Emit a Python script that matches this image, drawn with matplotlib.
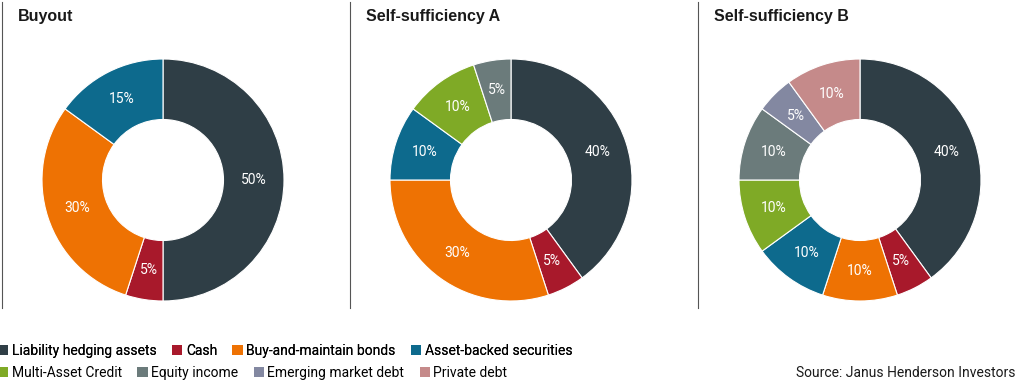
import numpy as np
import matplotlib.pyplot as plt
from matplotlib.patches import Patch
from matplotlib.lines import Line2D

plt.rcParams['font.family'] = ['Liberation Sans', 'DejaVu Sans']
narrow = ['Roboto', 'DejaVu Sans']

categories = ["Liability hedging assets", "Cash", "Buy-and-maintain bonds",
              "Asset-backed securities", "Multi-Asset Credit", "Equity income",
              "Emerging market debt", "Private debt"]
colors = ["#2f3e46", "#a8192b", "#ee7203", "#0d6a8d",
          "#7faa26", "#6b7b7b", "#8388a1", "#c58a8a"]

titles = ["Buyout", "Self-sufficiency A", "Self-sufficiency B"]
buyout = [50, 5, 30, 15, 0, 0, 0, 0]
suff_a = [40, 5, 30, 10, 10, 5, 0, 0]
suff_b = [40, 5, 10, 10, 10, 10, 5, 10]
portfolios = [buyout, suff_a, suff_b]

W, H = 1024, 384
fig = plt.figure(figsize=(W / 100, H / 100), dpi=100)

centers_x = [163, 511, 860]
cy = 180
R = 121

for i, (title, vals) in enumerate(zip(titles, portfolios)):
    cx = centers_x[i]
    ax = fig.add_axes([(cx - R) / W, (H - cy - R) / H, 2 * R / W, 2 * R / H])
    v = [x for x in vals if x > 0]
    c = [colors[k] for k, x in enumerate(vals) if x > 0]
    wedges, texts = ax.pie(v, colors=c, startangle=90, counterclock=False,
                           radius=1, wedgeprops=dict(width=0.5, edgecolor="white", linewidth=0.8))
    for w, val in zip(wedges, v):
        ang = np.deg2rad((w.theta1 + w.theta2) / 2)
        ax.text(0.75 * np.cos(ang), 0.75 * np.sin(ang), f"{val}%", color="white",
                ha="center", va="center", fontsize=10, family=narrow)
    ax.set_xlim(-1, 1)
    ax.set_ylim(-1, 1)
    ax.set_aspect("equal")
    ax.axis("off")

    # separator line and title
    x0 = [2, 350, 698][i]
    fig.add_artist(Line2D([x0 / W, x0 / W], [1 - 2 / H, 1 - 308 / H], color="#555555", linewidth=0.8))
    fig.text((x0 + 16) / W, 1 - 16 / H, title, fontsize=11.5, fontweight="bold",
             ha="left", va="center", color="#1a1a1a")

handles = [Patch(facecolor=col, edgecolor="none") for col in colors]
leg_kw = dict(ncol=4, loc="center left", frameon=False,
              prop=dict(family=narrow, size=10),
              handlelength=0.75, handleheight=0.75, handletextpad=0.25, columnspacing=1.1,
              borderaxespad=0, borderpad=0)

leg1 = fig.legend(handles[:4], categories[:4], bbox_to_anchor=(-0.002, 1 - 351 / H), **leg_kw)
fig.add_artist(leg1)
fig.legend(handles[4:], categories[4:], bbox_to_anchor=(-0.002, 1 - 373 / H), **leg_kw)

fig.text(1016 / W, 1 - 373 / H, "Source: Janus Henderson Investors", fontsize=10,
         family=narrow, ha="right", va="center", color="#1a1a1a")

fig.savefig("out.png", dpi=100, facecolor="white")
